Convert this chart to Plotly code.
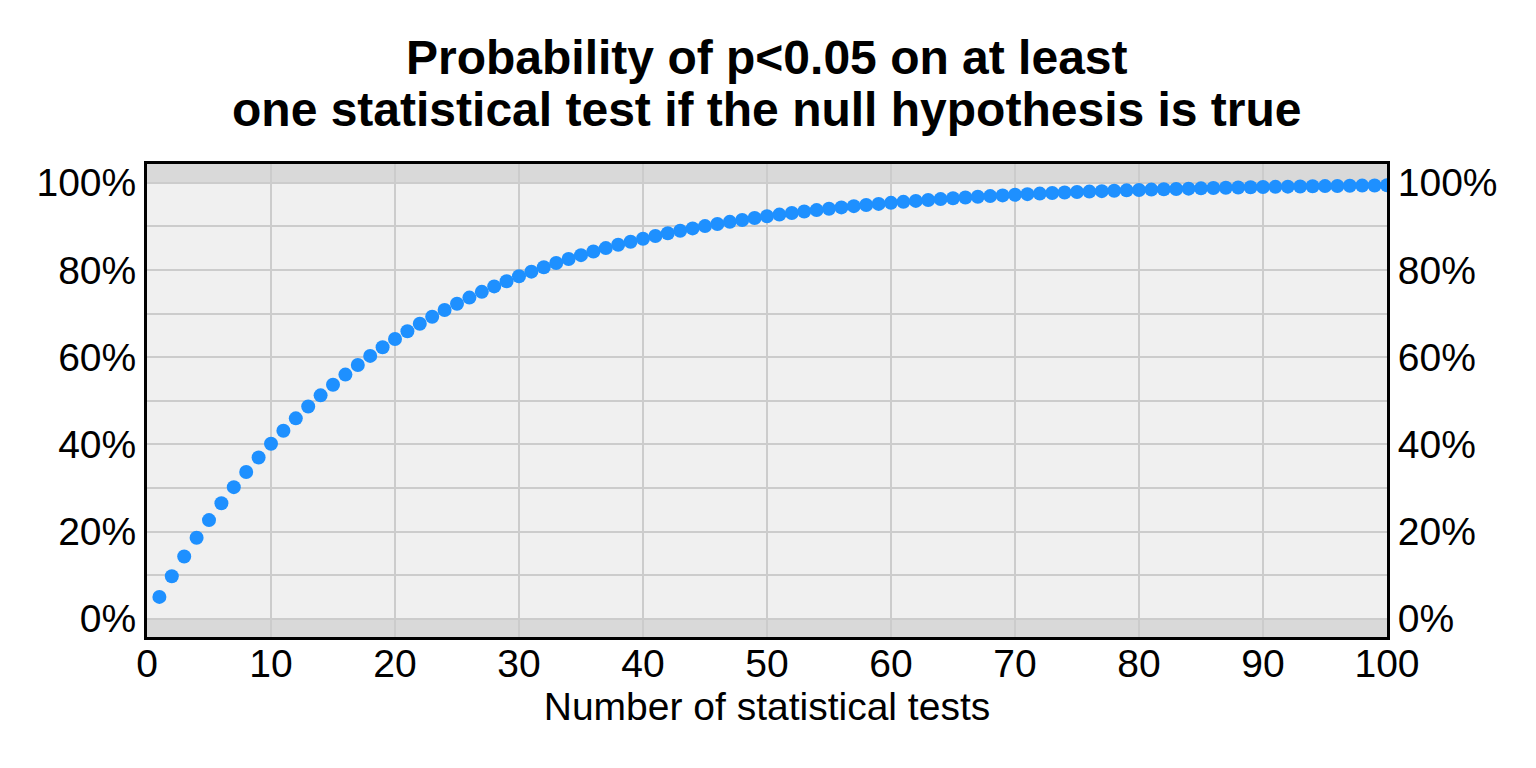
import plotly.graph_objects as go

n_tests = list(range(1, 101))
prob_sig = [
    0.0500, 0.0975, 0.1426, 0.1855, 0.2262, 0.2649, 0.3017, 0.3366, 0.3698, 0.4013,
    0.4312, 0.4596, 0.4867, 0.5123, 0.5367, 0.5599, 0.5819, 0.6028, 0.6226, 0.6415,
    0.6594, 0.6765, 0.6926, 0.7080, 0.7226, 0.7365, 0.7497, 0.7622, 0.7741, 0.7854,
    0.7961, 0.8063, 0.8160, 0.8252, 0.8339, 0.8422, 0.8501, 0.8576, 0.8647, 0.8715,
    0.8779, 0.8840, 0.8898, 0.8953, 0.9006, 0.9055, 0.9103, 0.9147, 0.9190, 0.9231,
    0.9269, 0.9306, 0.9340, 0.9373, 0.9405, 0.9434, 0.9463, 0.9490, 0.9515, 0.9539,
    0.9562, 0.9584, 0.9605, 0.9625, 0.9644, 0.9661, 0.9678, 0.9694, 0.9710, 0.9724,
    0.9738, 0.9751, 0.9764, 0.9775, 0.9787, 0.9797, 0.9807, 0.9817, 0.9826, 0.9835,
    0.9843, 0.9851, 0.9858, 0.9865, 0.9872, 0.9879, 0.9885, 0.9890, 0.9896, 0.9901,
    0.9906, 0.9911, 0.9915, 0.9919, 0.9923, 0.9927, 0.9931, 0.9934, 0.9938, 0.9941,
]
x_ticks = [0, 10, 20, 30, 40, 50, 60, 70, 80, 90, 100]
y_ticks = [0, 0.2, 0.4, 0.6, 0.8, 1.0]
y_tick_labels = ["0%", "20%", "40%", "60%", "80%", "100%"]

title_line1 = "Probability of p<0.05 on at least"
title_line2 = "one statistical test if the null hypothesis is true"
x_title = "Number of statistical tests"

FONT = "Liberation Sans, Arial, sans-serif"
GRID = "#CCCCCC"
Y_RANGE = [-0.042, 1.043]

fig = go.Figure()
fig.add_trace(go.Scatter(
    x=n_tests, y=prob_sig, mode="markers",
    marker=dict(color="#1E90FF", size=14, line=dict(width=0)),
    showlegend=False, hoverinfo="x+y",
))
# invisible trace for the right axis
fig.add_trace(go.Scatter(x=[None], y=[None], yaxis="y2", showlegend=False, hoverinfo="skip"))

# grey bands outside 0-100%
fig.add_shape(type="rect", xref="paper", yref="y", x0=0, x1=1, y0=Y_RANGE[0], y1=0,
              fillcolor="#D9D9D9", line=dict(width=0), layer="below")
fig.add_shape(type="rect", xref="paper", yref="y", x0=0, x1=1, y0=1.0, y1=Y_RANGE[1],
              fillcolor="#D9D9D9", line=dict(width=0), layer="below")

tickfont = dict(family=FONT, size=39, color="black")

fig.update_layout(
    width=1536, height=768,
    paper_bgcolor="white", plot_bgcolor="#F0F0F0",
    margin=dict(l=139, r=157, t=156, b=139),
    xaxis=dict(
        range=[0, 100], tickvals=x_ticks, tickfont=tickfont,
        showgrid=True, gridcolor=GRID, gridwidth=2, zeroline=False,
        showline=True, linecolor="black", linewidth=3, mirror=True,
        ticks="", ticklabelstandoff=-10,
        title=dict(text=x_title, font=dict(family=FONT, size=39, color="black"), standoff=0),
    ),
    yaxis=dict(
        range=Y_RANGE, tickvals=y_ticks, ticktext=y_tick_labels, tickfont=tickfont,
        showgrid=True, gridcolor=GRID, gridwidth=2, zeroline=False,
        minor=dict(dtick=0.1, tick0=0, showgrid=True, gridcolor=GRID, gridwidth=2),
        showline=True, linecolor="black", linewidth=3, mirror=True,
        ticks="",
    ),
    yaxis2=dict(
        range=Y_RANGE, tickvals=y_ticks, ticktext=y_tick_labels, tickfont=tickfont,
        overlaying="y", side="right", showgrid=False, zeroline=False,
        ticks="outside", ticklen=2, tickcolor="rgba(0,0,0,0)",
    ),
    annotations=[
        dict(text="<b>" + title_line1 + "</b>", xref="paper", yref="paper", x=0.5, y=1.0,
             yshift=107, xanchor="center", yanchor="middle", showarrow=False,
             font=dict(family=FONT, size=48, color="black")),
        dict(text="<b>" + title_line2 + "</b>", xref="paper", yref="paper", x=0.5, y=1.0,
             yshift=55, xanchor="center", yanchor="middle", showarrow=False,
             font=dict(family=FONT, size=48, color="black")),
    ],
)

fig.write_html("out.html")
